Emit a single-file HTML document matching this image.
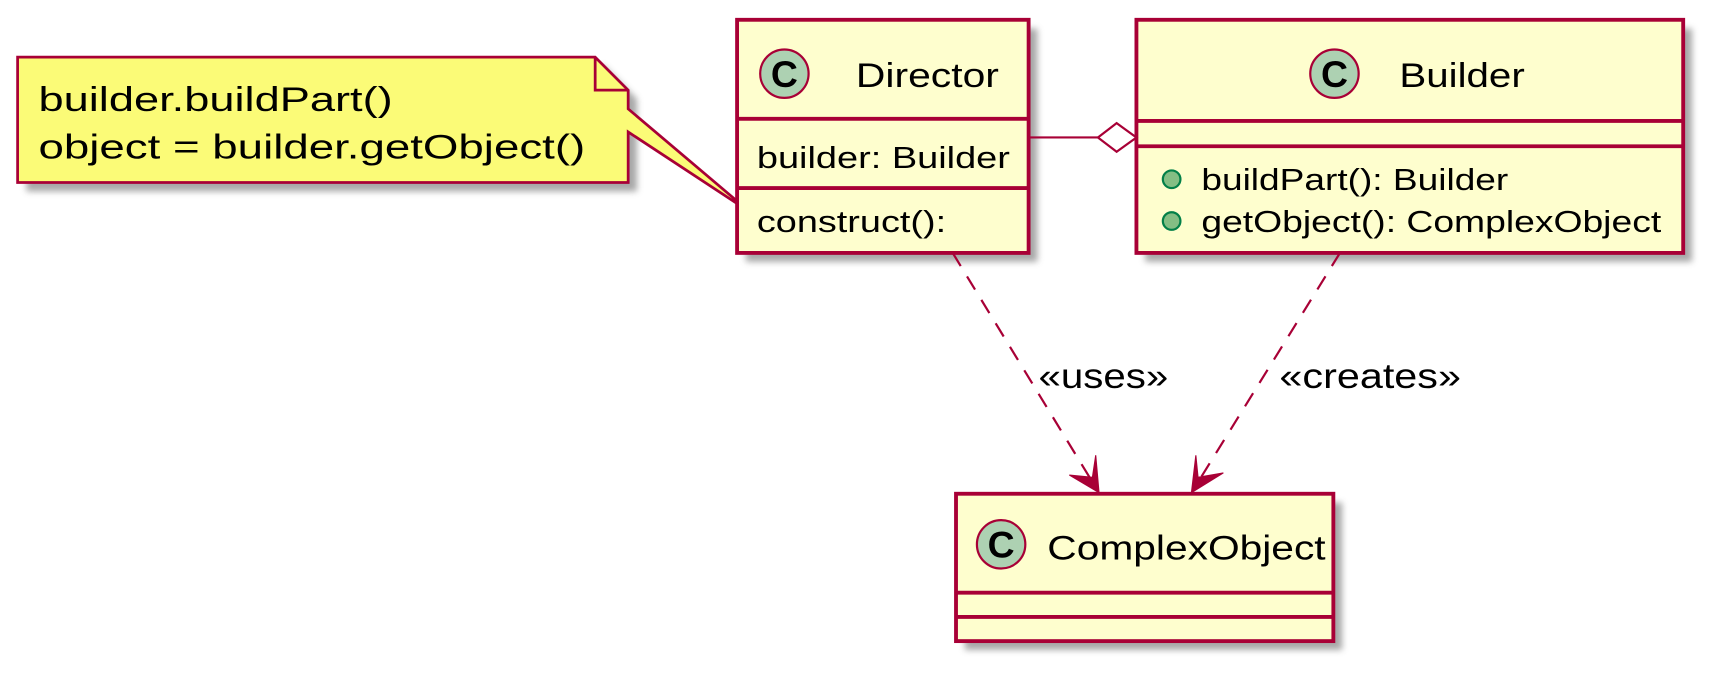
<!DOCTYPE html>
<html><head><meta charset="utf-8"><style>
html,body{margin:0;padding:0;background:#fff;}
svg{display:block;}
text{font-family:"Liberation Sans",sans-serif;fill:#000;}
</style></head><body>
<svg width="1725" height="684" viewBox="0 0 1568 622" preserveAspectRatio="none" xmlns="http://www.w3.org/2000/svg">
<defs>
<filter id="sh" x="-10%" y="-10%" width="130%" height="130%">
<feGaussianBlur stdDeviation="3"/>
</filter>
</defs>
<g fill="#999" opacity="0.85" filter="url(#sh)">
<path d="M24,60 L549,60 L579,90 L579,174 L24,174 Z"/>
<rect x="678" y="26" width="265" height="212"/>
<rect x="1041" y="26" width="497" height="212"/>
<rect x="877" y="457" width="343" height="134"/>
</g>
<path d="M16,52 L541,52 L571,82 L571,99 L682,193 L571,120 L571,166 L16,166 Z" fill="#FBFB77" stroke="#A80036" stroke-width="2.5"/>
<path d="M541,52 L541,82 L571,82" fill="none" stroke="#A80036" stroke-width="2.5"/>
<text x="35" y="101" font-size="31" textLength="322" lengthAdjust="spacingAndGlyphs">builder.buildPart()</text>
<text x="35" y="144" font-size="31" textLength="497" lengthAdjust="spacingAndGlyphs">object = builder.getObject()</text>
<rect x="670" y="18" width="265" height="212" fill="#FEFECE" stroke="#A80036" stroke-width="3.5"/>
<line x1="670" y1="108" x2="935" y2="108" stroke="#A80036" stroke-width="3.5"/>
<line x1="670" y1="171" x2="935" y2="171" stroke="#A80036" stroke-width="3.5"/>
<circle cx="713" cy="67" r="22" fill="#ADD1B2" stroke="#A80036" stroke-width="2"/>
<text x="713" y="79" font-size="34" font-weight="bold" text-anchor="middle">C</text>
<text x="778" y="79" font-size="31" textLength="130" lengthAdjust="spacingAndGlyphs">Director</text>
<text x="688" y="153" font-size="28" textLength="230" lengthAdjust="spacingAndGlyphs">builder: Builder</text>
<text x="688" y="211" font-size="28" textLength="172" lengthAdjust="spacingAndGlyphs">construct():</text>
<rect x="1033" y="18" width="497" height="212" fill="#FEFECE" stroke="#A80036" stroke-width="3.5"/>
<line x1="1033" y1="110" x2="1530" y2="110" stroke="#A80036" stroke-width="3.5"/>
<line x1="1033" y1="133" x2="1530" y2="133" stroke="#A80036" stroke-width="3.5"/>
<circle cx="1213" cy="67" r="22" fill="#ADD1B2" stroke="#A80036" stroke-width="2"/>
<text x="1213" y="79" font-size="34" font-weight="bold" text-anchor="middle">C</text>
<text x="1272" y="79" font-size="31" textLength="114" lengthAdjust="spacingAndGlyphs">Builder</text>
<circle cx="1065" cy="163" r="8" fill="#84BE84" stroke="#038048" stroke-width="2"/>
<circle cx="1065" cy="201" r="8" fill="#84BE84" stroke="#038048" stroke-width="2"/>
<text x="1092" y="173" font-size="28" textLength="279" lengthAdjust="spacingAndGlyphs">buildPart(): Builder</text>
<text x="1092" y="211" font-size="28" textLength="418" lengthAdjust="spacingAndGlyphs">getObject(): ComplexObject</text>
<line x1="935" y1="125" x2="998" y2="125" stroke="#A80036" stroke-width="2"/>
<path d="M998,125 L1015,112 L1033,125 L1015,138 Z" fill="#fff" stroke="#A80036" stroke-width="2"/>
<rect x="869" y="449" width="343" height="134" fill="#FEFECE" stroke="#A80036" stroke-width="3.5"/>
<line x1="869" y1="539" x2="1212" y2="539" stroke="#A80036" stroke-width="3.5"/>
<line x1="869" y1="561" x2="1212" y2="561" stroke="#A80036" stroke-width="3.5"/>
<circle cx="910" cy="495" r="22" fill="#ADD1B2" stroke="#A80036" stroke-width="2"/>
<text x="910" y="507" font-size="34" font-weight="bold" text-anchor="middle">C</text>
<text x="952" y="509" font-size="31" textLength="253" lengthAdjust="spacingAndGlyphs">ComplexObject</text>
<line x1="866" y1="230" x2="994" y2="440" stroke="#A80036" stroke-width="2" stroke-dasharray="14,11"/>
<path d="M999,448 L972,432 L993,434 L996,414 Z" fill="#A80036" stroke="#A80036" stroke-width="1"/>
<line x1="1218" y1="230" x2="1088" y2="440" stroke="#A80036" stroke-width="2" stroke-dasharray="14,11"/>
<path d="M1083,448 L1112,430 L1089,434 L1087,414 Z" fill="#A80036" stroke="#A80036" stroke-width="1"/>
<text x="944" y="353" font-size="32" textLength="118" lengthAdjust="spacingAndGlyphs">«uses»</text>
<text x="1163" y="353" font-size="32" textLength="165" lengthAdjust="spacingAndGlyphs">«creates»</text>
</svg>
</body></html>
